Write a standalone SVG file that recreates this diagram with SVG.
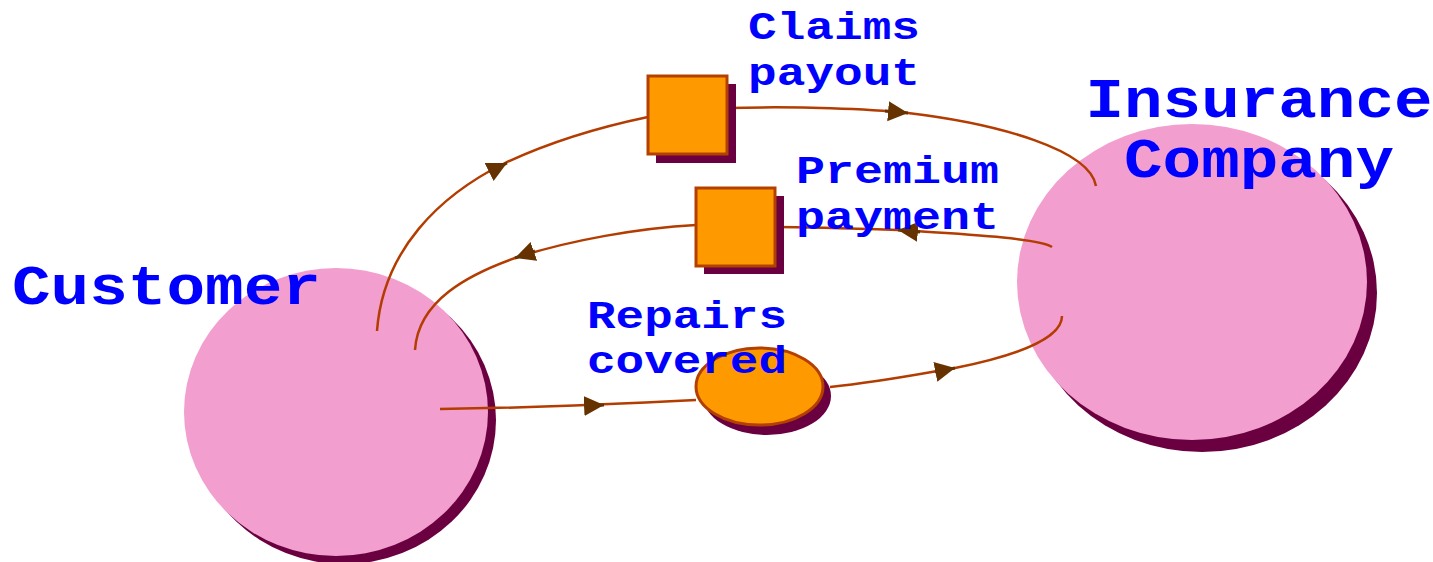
<svg xmlns="http://www.w3.org/2000/svg" width="1433" height="562" viewBox="0 0 1433 562">
  <style>
    .party { fill: #f29ecf; }
    .shadow { fill: #6b0040; }
    .store { fill: #ff9900; stroke: #b34000; stroke-width: 3; }
    .flow { fill: none; stroke: #b33c00; stroke-width: 2.5; }
    .tip { fill: none; stroke: #663300; stroke-width: 3; marker-end: url(#arrow); }
    .label { font-family: "Liberation Mono", "Courier New", monospace; font-weight: bold; fill: #0000ff; }
    .big { font-size: 55px; }
    .small { font-size: 39px; }
  </style>
  <defs>
    <marker id="arrow" markerUnits="userSpaceOnUse" markerWidth="22" markerHeight="22" refX="20" refY="10" orient="auto">
      <path d="M0,0 L20,10 L0,20 z" fill="#663300"/>
    </marker>
  </defs>

  <rect width="1433" height="562" fill="#ffffff"/>

  <!-- Customer -->
  <g id="customer">
    <ellipse class="shadow" cx="344" cy="420" rx="152" ry="144"/>
    <ellipse class="party" cx="336" cy="412" rx="152" ry="144"/>
  </g>

  <!-- Insurance Company -->
  <g id="insurance">
    <ellipse class="shadow" cx="1202" cy="293" rx="175" ry="159"/>
    <ellipse class="party" cx="1192" cy="282" rx="175" ry="158"/>
  </g>

  <!-- Flows between the parties -->
  <g id="connectors">
    <!-- claims payout: customer -> box -> insurer -->
    <path class="flow" d="M377,331 C383,250 440,195 505,163 C550,142 600,127 648,117"/>
    <path class="flow" d="M727,108 C800,106 870,109 908,113 C1000,124 1090,150 1096,186"/>
    <!-- premium payment: insurer -> box -> customer -->
    <path class="flow" d="M1052,247 C1040,238 960,234 898,230 C840,228 800,227 775,227"/>
    <path class="flow" d="M696,225 C640,228 570,240 515,258 C470,274 418,300 415,350"/>
    <!-- repairs covered: customer -> ellipse -> insurer -->
    <path class="flow" d="M440,409 C520,408 600,405 696,400"/>
    <path class="flow" d="M830,387 C880,382 920,374 955,368 C1010,357 1062,340 1062,316"/>

    <!-- arrowheads -->
    <path class="tip" d="M489,172 L507,163"/>
    <path class="tip" d="M885,111 L908,113"/>
    <path class="tip" d="M920,232 L898,230"/>
    <path class="tip" d="M535,251 L515,258"/>
    <path class="tip" d="M585,406 L604,405"/>
    <path class="tip" d="M935,372 L955,368"/>
  </g>

  <!-- Claims payout store -->
  <g id="claims-payout">
    <rect class="shadow" x="656" y="84" width="80" height="79"/>
    <rect class="store" x="648" y="76" width="79" height="78"/>
    <text class="label small" x="748" y="39" textLength="172" lengthAdjust="spacingAndGlyphs">Claims</text>
    <text class="label small" x="748" y="85" textLength="172" lengthAdjust="spacingAndGlyphs">payout</text>
  </g>

  <!-- Premium payment store -->
  <g id="premium-payment">
    <rect class="shadow" x="704" y="196" width="80" height="78"/>
    <rect class="store" x="696" y="188" width="79" height="78"/>
    <text class="label small" x="796" y="183" textLength="203" lengthAdjust="spacingAndGlyphs">Premium</text>
    <text class="label small" x="796" y="229" textLength="203" lengthAdjust="spacingAndGlyphs">payment</text>
  </g>

  <!-- Repairs covered -->
  <g id="repairs-covered">
    <ellipse class="shadow" cx="767" cy="396" rx="64" ry="39"/>
    <ellipse class="store" cx="759.5" cy="386.5" rx="63.5" ry="38.5"/>
    <text class="label small" x="587" y="328" textLength="200" lengthAdjust="spacingAndGlyphs">Repairs</text>
    <text class="label small" x="587" y="373" textLength="200" lengthAdjust="spacingAndGlyphs">covered</text>
  </g>

  <!-- Party names -->
  <text class="label big" x="12" y="304" textLength="309" lengthAdjust="spacingAndGlyphs">Customer</text>
  <text class="label big" x="1259" y="117" text-anchor="middle" textLength="347" lengthAdjust="spacingAndGlyphs">Insurance</text>
  <text class="label big" x="1259" y="177" text-anchor="middle" textLength="270" lengthAdjust="spacingAndGlyphs">Company</text>
</svg>
